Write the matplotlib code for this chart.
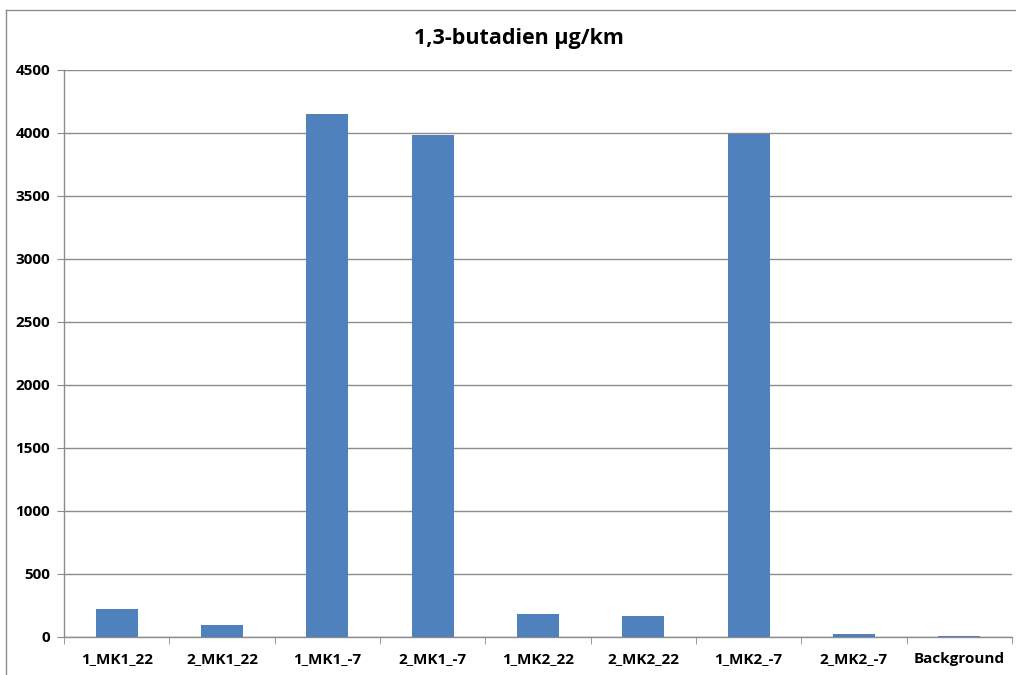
import numpy as np
import matplotlib.pyplot as plt
from matplotlib.lines import Line2D

categories = ['1_MK1_22', '2_MK1_22', '1_MK1_-7', '2_MK1_-7', '1_MK2_22',
              '2_MK2_22', '1_MK2_-7', '2_MK2_-7', 'Background']
values = [225, 98, 4148, 3984, 185, 164, 3992, 26, 6]
y_ticks = list(range(0, 5000, 500))

plt.rcParams['font.family'] = ['Open Sans', 'DejaVu Sans']

fig = plt.figure(figsize=(10.16, 6.75), dpi=100)
ax = fig.add_axes([0.063, 0.0563, 0.933, 0.8400])

x = np.arange(len(categories))
ax.bar(x, values, width=0.4, color='#4F81BD', zorder=3)

ax.set_xlim(-0.5, len(categories) - 0.5)
ax.set_ylim(0, 4500)
ax.set_yticks(y_ticks)
ax.set_yticklabels([str(t) for t in y_ticks], fontsize=11, fontweight='bold')
ax.yaxis.grid(True, color='#8c8c8c', linewidth=1.0, zorder=0)

# category labels sit between the boundary tick marks
ax.set_xticks(x)
ax.set_xticklabels(categories, fontsize=11, fontweight='bold')
ax.tick_params(axis='x', length=0, pad=11)
ax.set_xticks(np.arange(len(categories) + 1) - 0.5, minor=True)
ax.tick_params(axis='x', which='minor', length=5, color='#8c8c8c', direction='out')
ax.tick_params(axis='y', length=5, color='#8c8c8c', pad=5)

for side in ['top', 'right']:
    ax.spines[side].set_visible(False)
for side in ['left', 'bottom']:
    ax.spines[side].set_color('#8c8c8c')
    ax.spines[side].set_linewidth(1.0)

fig.text(0.511, 0.943, '1,3-butadien µg/km', ha='center', va='center',
         fontsize=15.5, fontweight='bold')

# outer chart frame
fig.add_artist(Line2D([6 / 1016, 1.0], [1 - 10 / 675] * 2,
                      transform=fig.transFigure, color='#8c8c8c', linewidth=1.0))
fig.add_artist(Line2D([6 / 1016] * 2, [0, 1 - 10 / 675],
                      transform=fig.transFigure, color='#8c8c8c', linewidth=1.0))

fig.savefig('out.png', dpi=100)
